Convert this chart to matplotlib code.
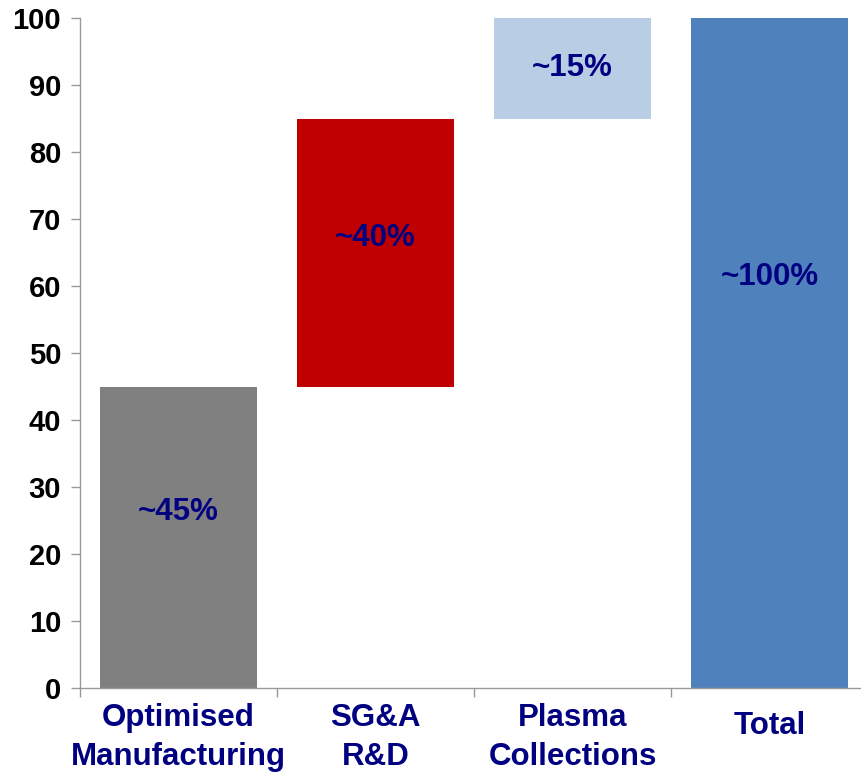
import matplotlib.pyplot as plt
import numpy as np

categories = ["Optimised\nManufacturing", "SG&A\nR&D", "Plasma\nCollections", "Total"]
heights = [45, 40, 15, 100]
bottoms = [0, 45, 85, 0]
labels = ["~45%", "~40%", "~15%", "~100%"]
label_y = [26.2, 67.2, 92.5, 61.3]
colors = ["#808080", "#C00000", "#B9CDE5", "#4F81BD"]

plt.rcParams['font.family'] = ['Liberation Sans', 'DejaVu Sans']
plt.rcParams['font.weight'] = 'bold'

fig = plt.figure(figsize=(8.61, 7.73), dpi=100)
ax = fig.add_axes([80 / 861, 85 / 773, 788 / 861, 670 / 773])

x = np.arange(len(categories))
ax.bar(x, heights, bottom=bottoms, width=0.8, color=colors, zorder=2)

for i in range(len(x)):
    ax.text(x[i], label_y[i], labels[i], ha="center", va="center",
            fontsize=22.5, fontweight="bold", color="#000080")

ax.set_xlim(-0.5, 3.5)
ax.set_ylim(0, 100)
ax.set_yticks(np.arange(0, 101, 10))
ax.set_xticks(x)
ax.set_xticklabels(categories, fontsize=22.5, fontweight="bold", color="#000080",
                   linespacing=1.4)
ax.set_xticks(np.arange(-0.5, 3.6, 1), minor=True)
ax.tick_params(axis="x", which="major", length=0, pad=11)
ax.tick_params(axis="x", which="minor", length=6.5, width=1, color="#999999")
ax.tick_params(axis="y", length=6.5, width=1, color="#999999", pad=7, labelsize=21)
for t in ax.get_yticklabels():
    t.set_fontweight("bold")
# "Total" sits a little lower than the two-line labels
ax.get_xticklabels()[3].set_y(-0.012)

for s in ["top", "right"]:
    ax.spines[s].set_visible(False)
for s in ["left", "bottom"]:
    ax.spines[s].set_color("#999999")
    ax.spines[s].set_linewidth(1)

fig.savefig("out.png", dpi=100)
